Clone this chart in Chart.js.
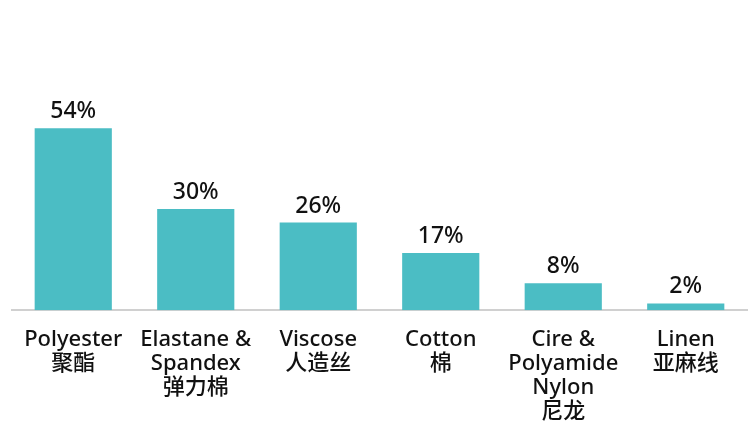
<!DOCTYPE html>
<html>
<head>
<meta charset="utf-8">
<script src="https://cdn.jsdelivr.net/npm/chart.js@4"></script>
<style>
  html, body { margin: 0; padding: 0; background: #fff; }
  #wrap { width: 754px; height: 433px; }
</style>
</head>
<body>
<div id="wrap"><canvas id="fibreChart"></canvas></div>
<script>
// fibre categories, english + chinese lines
const categories = [
    ['Polyester', '聚酯'],
    ['Elastane &', 'Spandex', '弹力棉'],
    ['Viscose', '人造丝'],
    ['Cotton', '棉'],
    ['Cire &', 'Polyamide', 'Nylon', '尼龙'],
    ['Linen', '亚麻线']
];
const shares = [54, 30, 26, 17, 8, 2];
const barColor = '#4BBDC4';

const fontFamily = '"Noto Sans", "Noto Sans CJK SC", sans-serif';

// draws the "54%" style labels above each bar
const valueLabels = {
    id: 'valueLabels',
    afterDatasetsDraw(chart) {
        const ctx = chart.ctx;
        const meta = chart.getDatasetMeta(0);
        ctx.save();
        ctx.fillStyle = '#111';
        ctx.font = '500 23px ' + fontFamily;
        ctx.textAlign = 'center';
        ctx.textBaseline = 'alphabetic';
        meta.data.forEach((bar, i) => {
            ctx.fillText(shares[i] + '%', bar.x, bar.y - 10);
        });
        ctx.restore();
    }
};

new Chart(document.getElementById('fibreChart').getContext('2d'), {
    type: 'bar',
    data: {
        labels: categories,
        datasets: [{
            data: shares,
            backgroundColor: barColor,
            barPercentage: 0.63,
            categoryPercentage: 1.0
        }]
    },
    options: {
        responsive: true,
        maintainAspectRatio: false,
        animation: false,
        layout: {
            padding: { left: 12, right: 7, top: 108, bottom: 0 }
        },
        scales: {
            x: {
                grid: { display: false },
                border: { color: '#d0d0d0', width: 2 },
                ticks: {
                    color: '#111',
                    font: { family: fontFamily, size: 22, weight: '500', lineHeight: 1.1 },
                    maxRotation: 0,
                    autoSkip: false,
                    padding: 9
                }
            },
            y: {
                display: false,
                min: 0,
                max: 60
            }
        },
        plugins: {
            legend: { display: false },
            tooltip: { enabled: false }
        }
    },
    plugins: [valueLabels]
});
</script>
</body>
</html>
